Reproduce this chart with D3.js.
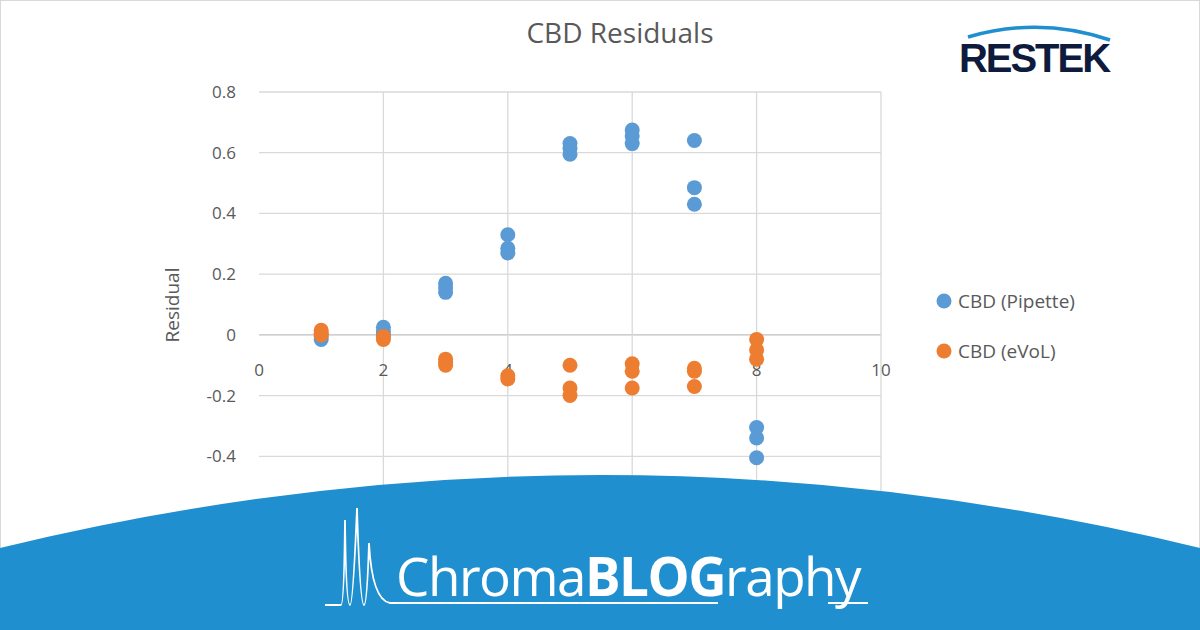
<!DOCTYPE html>
<html><head><meta charset="utf-8">
<script src="https://cdn.jsdelivr.net/npm/d3@7"></script>
<style>body{margin:0;background:#fff}svg{display:block;font-family:"Open Sans","Noto Sans",sans-serif}</style>
</head><body><div id="chart"></div>
<script>
// residual data
const pipetteX = [1,1, 2,2,2, 3,3,3, 4,4,4, 5,5,5, 6,6,6, 7,7,7, 8,8,8];
const pipetteY = [-0.015,-0.005, 0.025,0.01,0.0, 0.17,0.155,0.14, 0.33,0.285,0.27, 0.63,0.615,0.595, 0.675,0.655,0.63, 0.64,0.485,0.43, -0.305,-0.34,-0.405];
const evolX = [1,1,1, 2,2, 3,3,3, 4,4, 5,5,5, 6,6,6, 7,7,7, 8,8,8];
const evolY = [0.015,0.005,0.0, -0.005,-0.015, -0.08,-0.09,-0.1, -0.135,-0.145, -0.1,-0.175,-0.2, -0.095,-0.12,-0.175, -0.11,-0.12,-0.17, -0.015,-0.05,-0.08];
const xTicks = [0,2,4,6,8,10];
const yTicks = [-0.6,-0.4,-0.2,0,0.2,0.4,0.6,0.8];
const seriesNames = ["CBD (Pipette)", "CBD (eVoL)"];
const colors = ["#5b9bd5", "#ed7d31"];

const width = 1200, height = 630;
const svg = d3.select("#chart").append("svg").attr("width", width).attr("height", height);
svg.append("rect").attr("x",0.5).attr("y",0.5).attr("width",width-1).attr("height",height-1)
    .attr("fill","#fff").attr("stroke","#d9d9d9");

const x = d3.scaleLinear().domain([0,10]).range([259,881]);
const y = d3.scaleLinear().domain([-0.6,0.8]).range([517,92]);

// gridlines
svg.append("g").selectAll("line").data(yTicks).join("line")
    .attr("x1",259).attr("x2",881).attr("y1",d=>y(d)).attr("y2",d=>y(d))
    .attr("stroke",d=>d===0?"#bfbfbf":"#d9d9d9").attr("stroke-width",1.3);
svg.append("g").selectAll("line").data(xTicks.slice(1)).join("line")
    .attr("x1",d=>x(d)).attr("x2",d=>x(d)).attr("y1",92).attr("y2",517)
    .attr("stroke","#d9d9d9").attr("stroke-width",1.3);

svg.append("g").selectAll("text").data(yTicks).join("text")
    .attr("x",236).attr("y",d=>y(d)+6).attr("text-anchor","end")
    .attr("fill","#595959").attr("font-size","17px").text(d=>d);
svg.append("g").selectAll("text").data(xTicks).join("text")
    .attr("x",d=>x(d)).attr("y",y(0)+41).attr("text-anchor","middle")
    .attr("fill","#595959").attr("font-size","17px").text(d=>d);

svg.append("text").attr("transform","translate(179,305) rotate(-90)")
    .attr("text-anchor","middle").attr("fill","#595959").attr("font-size","19px").text("Residual");
svg.append("text").attr("x",620).attr("y",43).attr("text-anchor","middle")
    .attr("fill","#595959").attr("font-size","28px").text("CBD Residuals");

// points
[[pipetteX,pipetteY],[evolX,evolY]].forEach(([xs,ys],s)=>{
  svg.append("g").selectAll("circle").data(xs.map((v,i)=>[v,ys[i]])).join("circle")
    .attr("cx",d=>x(d[0])).attr("cy",d=>y(d[1])).attr("r",7.5).attr("fill",colors[s]);
});

// legend
seriesNames.forEach((n,i)=>{
  const g = svg.append("g").attr("transform",`translate(944,${301+i*50})`);
  g.append("circle").attr("r",7.5).attr("fill",colors[i]);
  g.append("text").attr("x",14).attr("y",7).attr("fill","#595959").attr("font-size","19px").text(n);
});

// banner arc
svg.append("path")
  .attr("d","M0,548 Q600,402 1200,548 L1200,630 L0,630 Z")
  .attr("fill","#1f8fcf");
// chromatogram glyph
svg.append("path").attr("fill","none").attr("stroke","#fff").attr("stroke-width",1.8)
  .attr("d","M325,605 L341,605 Q344,605 345,520 Q346,605 350,605 Q353,605 357,508 Q360,605 364,605 Q367,605 369,543 Q372,600 390,603 L718,603");
svg.append("path").attr("fill","none").attr("stroke","#fff").attr("stroke-width",1.8)
  .attr("d","M828,603 L868,603");
svg.append("text").attr("x",396).attr("y",596).attr("fill","#fff").attr("font-size","53px")
  .attr("font-family","'Open Sans',sans-serif").attr("letter-spacing","-1.5")
  .html('Chroma<tspan font-weight="bold">BLOG</tspan>raphy');

// logo
svg.append("path").attr("d","M968,37 Q1040,16 1110,40").attr("fill","none")
  .attr("stroke","#1f8fcf").attr("stroke-width",3.5);
svg.append("text").attr("x",1034).attr("y",72).attr("text-anchor","middle")
  .attr("fill","#0f1b3d").attr("font-size","40px").attr("font-weight","900")
  .attr("font-family","'Liberation Sans',Arial,sans-serif").attr("letter-spacing","-2").text("RESTEK");
</script></body></html>
